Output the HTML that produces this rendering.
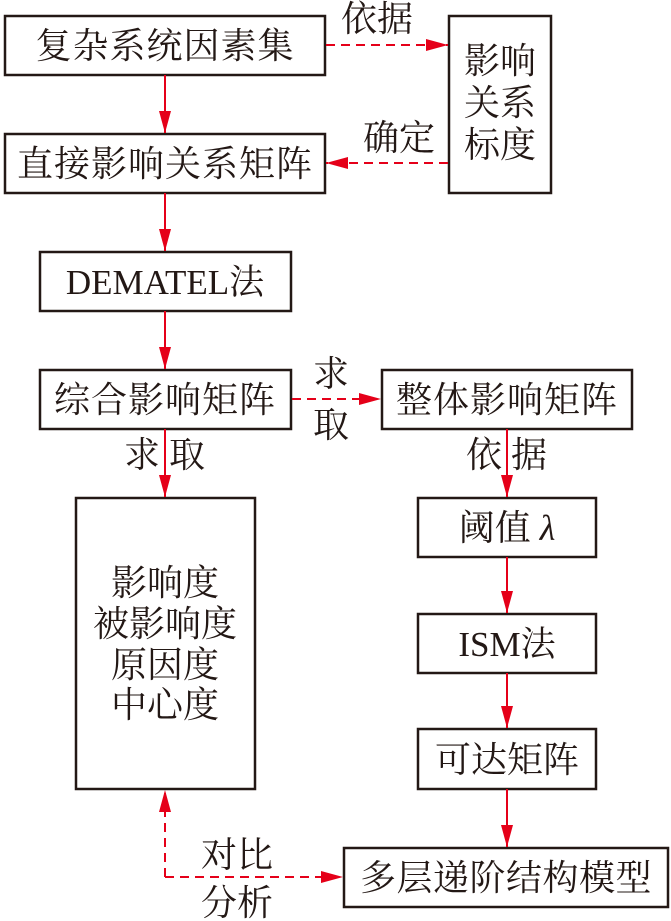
<!DOCTYPE html>
<html><head><meta charset="utf-8"><style>
html,body{margin:0;padding:0;background:#fff}
svg{display:block}
text{font-family:"Liberation Serif","Noto Serif CJK SC",serif;fill:#231815}
</style></head><body>
<svg width="671" height="921" viewBox="0 0 671 921" xmlns="http://www.w3.org/2000/svg">
<defs>
<marker id="a" markerWidth="22" markerHeight="12" refX="22" refY="6" orient="auto" markerUnits="userSpaceOnUse" viewBox="0 0 22 12">
<path d="M0,0 L22,6 L0,12 z" fill="#e50019"/>
</marker>
</defs>
<g fill="none" stroke="#231815" stroke-width="2.5">
<rect x="5" y="16" width="320" height="59"/>
<rect x="449" y="16" width="102" height="177"/>
<rect x="5" y="134" width="320" height="59"/>
<rect x="40" y="252" width="251" height="59"/>
<rect x="40" y="370" width="251" height="59"/>
<rect x="382" y="370" width="250" height="59"/>
<rect x="76" y="498" width="179" height="291"/>
<rect x="418" y="498" width="178" height="59"/>
<rect x="418" y="614" width="178" height="59"/>
<rect x="418" y="729" width="178" height="60"/>
<rect x="344" y="848" width="324" height="59"/>
</g>
<g stroke="#e50019" stroke-width="2" fill="none">
<line x1="165" y1="75" x2="165" y2="133" marker-end="url(#a)"/>
<line x1="165" y1="193" x2="165" y2="251" marker-end="url(#a)"/>
<line x1="165" y1="311" x2="165" y2="369" marker-end="url(#a)"/>
<line x1="165" y1="429" x2="165" y2="497" marker-end="url(#a)"/>
<line x1="507" y1="429" x2="507" y2="497" marker-end="url(#a)"/>
<line x1="507" y1="557" x2="507" y2="613" marker-end="url(#a)"/>
<line x1="507" y1="673" x2="507" y2="728" marker-end="url(#a)"/>
<line x1="507" y1="789" x2="507" y2="847" marker-end="url(#a)"/>
<g stroke-dasharray="9,6">
<line x1="326" y1="45" x2="448" y2="45" marker-end="url(#a)"/>
<line x1="448" y1="163" x2="326" y2="163" marker-end="url(#a)"/>
<line x1="292" y1="399" x2="381" y2="399" marker-end="url(#a)"/>
<polyline points="165,877 165,790"  marker-end="url(#a)"/>
<line x1="165" y1="877" x2="343" y2="877" marker-end="url(#a)"/>
</g>
</g>
<g font-size="36" text-anchor="middle">
<text x="165" y="58" letter-spacing="1">复杂系统因素集</text>
<text x="165" y="176" letter-spacing="1">直接影响关系矩阵</text>
<text x="165" y="294" font-size="35">DEMATEL法</text>
<text x="165" y="412" letter-spacing="1">综合影响矩阵</text>
<text x="507" y="412" letter-spacing="1">整体影响矩阵</text>
<text x="500" y="73">影响</text>
<text x="500" y="115">关系</text>
<text x="500" y="157">标度</text>
<text x="377" y="31">依据</text>
<text x="399" y="150">确定</text>
<text x="331" y="386">求</text>
<text x="331" y="437">取</text>
<text x="142" y="467">求</text>
<text x="187" y="467">取</text>
<text x="484" y="467">依</text>
<text x="529" y="467">据</text>
<text x="165" y="595">影响度</text>
<text x="165" y="636">被影响度</text>
<text x="165" y="677">原因度</text>
<text x="165" y="717">中心度</text>
<text x="507" y="540">阈值 <tspan font-style="italic">λ</tspan></text>
<text x="507" y="656" font-size="35">ISM法</text>
<text x="507" y="772">可达矩阵</text>
<text x="506" y="890" letter-spacing="0.5">多层递阶结构模型</text>
<text x="237" y="867">对比</text>
<text x="237" y="915">分析</text>
</g>
</svg>
</body></html>
